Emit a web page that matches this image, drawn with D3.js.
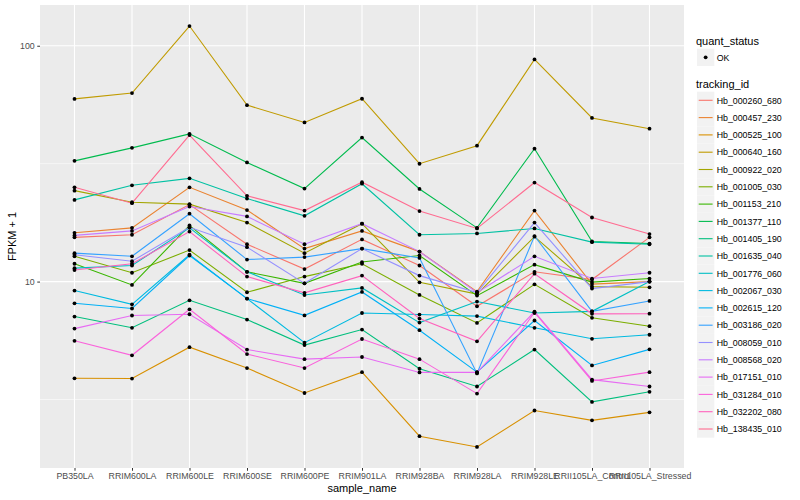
<!DOCTYPE html>
<html>
<head>
<meta charset="utf-8">
<script src="https://cdn.jsdelivr.net/npm/d3@7"></script>
<style>
  body { margin: 0; background: #fff; }
  text { font-family: "Liberation Sans", Arial, Helvetica, sans-serif; }
</style>
</head>
<body>
<div id="my_dataviz"></div>
<script>
// samples on the x axis
var samples = ["PB350LA", "RRIM600LA", "RRIM600LE", "RRIM600SE", "RRIM600PE", "RRIM901LA",
               "RRIM928BA", "RRIM928LA", "RRIM928LE", "RRII105LA_Control", "RRII105LA_Stressed"];

// genes (tracking_id)
var genes = ["Hb_000260_680", "Hb_000457_230", "Hb_000525_100", "Hb_000640_160", "Hb_000922_020",
             "Hb_001005_030", "Hb_001153_210", "Hb_001377_110", "Hb_001405_190", "Hb_001635_040",
             "Hb_001776_060", "Hb_002067_030", "Hb_002615_120", "Hb_003186_020", "Hb_008059_010",
             "Hb_008568_020", "Hb_017151_010", "Hb_031284_010", "Hb_032202_080", "Hb_138435_010"];

// FPKM + 1 per gene, one value per sample
var Hb_000260_680 = [15.4, 15.8, 21.2, 14.4, 11.3, 15.1, 11.7, 7.86, 11.0, 10.2, 15.4];
var Hb_000457_230 = [16.1, 16.9, 25.1, 20.1, 13.8, 16.4, 13.4, 9.07, 20.0, 9.76, 10.0];
var Hb_000525_100 = [3.89, 3.88, 5.27, 4.30, 3.37, 4.13, 2.21, 1.99, 2.84, 2.58, 2.79];
var Hb_000640_160 = [59.5, 63.0, 121.2, 56.0, 47.3, 59.6, 31.6, 37.7, 87.5, 49.4, 44.5];
var Hb_000922_020 = [24.3, 21.7, 21.3, 17.8, 13.2, 17.6, 9.93, 8.85, 15.5, 9.52, 9.46];
var Hb_001005_030 = [12.8, 10.9, 13.6, 9.01, 10.5, 11.9, 8.78, 6.68, 9.74, 7.02, 6.47];
var Hb_001153_210 = [11.9, 9.68, 17.3, 11.0, 9.83, 12.1, 12.9, 8.72, 11.8, 9.95, 10.3];
var Hb_001377_110 = [32.5, 36.9, 42.3, 32.0, 24.8, 40.8, 24.7, 16.9, 36.6, 14.8, 14.5];
var Hb_001405_190 = [7.11, 6.37, 8.33, 6.90, 5.38, 6.26, 4.27, 3.59, 5.15, 3.09, 3.41];
var Hb_001635_040 = [22.2, 25.6, 27.4, 22.5, 19.0, 26.0, 15.8, 16.0, 16.8, 14.7, 14.4];
var Hb_001776_060 = [11.4, 11.7, 16.9, 11.0, 8.77, 9.40, 6.70, 8.23, 7.36, 7.48, 10.0];
var Hb_002067_030 = [9.16, 8.01, 13.0, 8.47, 5.51, 7.36, 7.25, 7.14, 6.37, 5.72, 5.95];
var Hb_002615_120 = [8.09, 7.69, 12.9, 8.47, 7.19, 9.04, 6.22, 4.13, 6.84, 4.41, 5.16];
var Hb_003186_020 = [13.2, 12.8, 19.4, 12.4, 12.7, 13.8, 12.6, 4.08, 15.6, 7.48, 8.28];
var Hb_008059_010 = [13.0, 12.2, 17.0, 14.0, 9.83, 13.8, 10.6, 8.98, 17.8, 9.34, 10.0];
var Hb_008568_020 = [15.7, 16.4, 20.8, 18.9, 14.4, 17.6, 13.4, 8.98, 12.8, 10.3, 10.9];
var Hb_017151_010 = [6.32, 7.18, 7.27, 5.15, 4.69, 4.79, 4.12, 4.12, 7.46, 3.84, 3.59];
var Hb_031284_010 = [5.61, 4.87, 7.63, 4.93, 4.30, 5.71, 4.69, 3.35, 7.41, 3.79, 4.13];
var Hb_032202_080 = [11.2, 11.9, 16.3, 10.5, 8.96, 10.6, 6.97, 5.58, 10.8, 7.30, 7.31];
var Hb_138435_010 = [25.1, 21.5, 41.8, 23.1, 20.0, 26.4, 19.9, 16.8, 26.3, 18.7, 15.9];

var values = [Hb_000260_680, Hb_000457_230, Hb_000525_100, Hb_000640_160, Hb_000922_020,
              Hb_001005_030, Hb_001153_210, Hb_001377_110, Hb_001405_190, Hb_001635_040,
              Hb_001776_060, Hb_002067_030, Hb_002615_120, Hb_003186_020, Hb_008059_010,
              Hb_008568_020, Hb_017151_010, Hb_031284_010, Hb_032202_080, Hb_138435_010];

var yTicks = [10, 100];
var yMinor = [Math.pow(10, 0.5), Math.pow(10, 1.5)];

// ggplot hue palette for 20 levels
var colors = ["#F8766D", "#EA8331", "#D89000", "#C09B00", "#A3A500", "#7CAE00", "#39B600",
              "#00BB4E", "#00BF7D", "#00C1A3", "#00BFC4", "#00BAE0", "#00B0F6", "#35A2FF",
              "#9590FF", "#C77CFF", "#E76BF3", "#FA62DB", "#FF62BC", "#FF6C91"];

var series = genes.map((g, i) => ({ id: g, color: colors[i], vals: values[i] }));

var margin = { top: 5, right: 116, bottom: 32, left: 40 },
    width = 800 - margin.left - margin.right,
    height = 500 - margin.top - margin.bottom;

var svg = d3.select("#my_dataviz")
    .append("svg")
    .attr("width", 800)
    .attr("height", 500)
    .append("g")
    .attr("transform", `translate(${margin.left},${margin.top})`);

// x: discrete, 0.6 step padding like ggplot
var x = d3.scalePoint()
    .domain(samples)
    .range([0, width])
    .padding(0.6);

// y: log10 with 5% expansion
var all = values.flat();
var lo = Math.log10(d3.min(all)), hi = Math.log10(d3.max(all));
var pad = (hi - lo) * 0.05;
var y = d3.scaleLog()
    .domain([Math.pow(10, lo - pad), Math.pow(10, hi + pad)])
    .range([height, 0]);

// panel background
svg.append("rect")
    .attr("width", width)
    .attr("height", height)
    .attr("fill", "#EBEBEB");

// grid
svg.append("g").selectAll("line")
    .data(yMinor).enter().append("line")
    .attr("x1", 0).attr("x2", width)
    .attr("y1", d => y(d)).attr("y2", d => y(d))
    .attr("stroke", "#fff").attr("stroke-width", 0.55);

svg.append("g").selectAll("line")
    .data(yTicks).enter().append("line")
    .attr("x1", 0).attr("x2", width)
    .attr("y1", d => y(d)).attr("y2", d => y(d))
    .attr("stroke", "#fff").attr("stroke-width", 1.1);

svg.append("g").selectAll("line")
    .data(samples).enter().append("line")
    .attr("x1", d => x(d)).attr("x2", d => x(d))
    .attr("y1", 0).attr("y2", height)
    .attr("stroke", "#fff").attr("stroke-width", 1.1);

// lines
var line = d3.line()
    .x((d, i) => x(samples[i]))
    .y(d => y(d));

svg.append("g").selectAll("path")
    .data(series).enter().append("path")
    .attr("d", d => line(d.vals))
    .attr("fill", "none")
    .attr("stroke", d => d.color)
    .attr("stroke-width", 1.1);

// points
series.forEach(s => {
    svg.append("g").selectAll("circle")
        .data(s.vals).enter().append("circle")
        .attr("cx", (d, i) => x(samples[i]))
        .attr("cy", d => y(d))
        .attr("r", 1.9)
        .attr("fill", "#000");
});

// axes
var xAxis = svg.append("g")
    .attr("transform", `translate(0,${height})`)
    .call(d3.axisBottom(x).tickSize(2.75).tickPadding(2.5));
xAxis.select(".domain").remove();
xAxis.selectAll("line").attr("stroke", "#333333");
xAxis.selectAll("text").attr("fill", "#4D4D4D").style("font-size", "8.8px")
    .style("font-family", "'Liberation Sans', Arial, sans-serif");

var yAxis = svg.append("g")
    .call(d3.axisLeft(y).tickValues(yTicks).tickFormat(d3.format("d")).tickSize(2.75).tickPadding(2.5));
yAxis.select(".domain").remove();
yAxis.selectAll("line").attr("stroke", "#333333");
yAxis.selectAll("text").attr("fill", "#4D4D4D").style("font-size", "8.8px")
    .style("font-family", "'Liberation Sans', Arial, sans-serif");

// axis titles
svg.append("text")
    .attr("text-anchor", "middle")
    .attr("x", width / 2)
    .attr("y", height + 24)
    .style("font-size", "11px")
    .text("sample_name");

svg.append("text")
    .attr("text-anchor", "middle")
    .attr("transform", "rotate(-90)")
    .attr("x", -height / 2)
    .attr("y", -margin.left + 16)
    .style("font-size", "11px")
    .text("FPKM + 1");

// legends
var leg = d3.select("svg").append("g").attr("transform", "translate(696,0)");
var keySize = 17.3;

leg.append("text").attr("x", 0).attr("y", 44.5).style("font-size", "11px").text("quant_status");
leg.append("rect").attr("x", 1).attr("y", 57.3 - keySize / 2)
    .attr("width", keySize).attr("height", keySize).attr("fill", "#F2F2F2");
leg.append("circle").attr("cx", 1 + keySize / 2).attr("cy", 57.3).attr("r", 1.9).attr("fill", "#000");
leg.append("text").attr("x", 20.7).attr("y", 60.5).style("font-size", "8.8px").text("OK");

leg.append("text").attr("x", 0).attr("y", 88).style("font-size", "11px").text("tracking_id");

var items = leg.selectAll(".item")
    .data(series).enter().append("g")
    .attr("transform", (d, i) => `translate(1,${100.3 + i * keySize})`);

items.append("rect")
    .attr("y", -keySize / 2)
    .attr("width", keySize).attr("height", keySize)
    .attr("fill", "#F2F2F2");

items.append("line")
    .attr("x1", 1.7).attr("x2", keySize - 1.7)
    .attr("stroke", d => d.color)
    .attr("stroke-width", 1.1);

items.append("text")
    .attr("x", 19.7).attr("y", 3.2)
    .style("font-size", "8.8px")
    .text(d => d.id);
</script>
</body>
</html>
